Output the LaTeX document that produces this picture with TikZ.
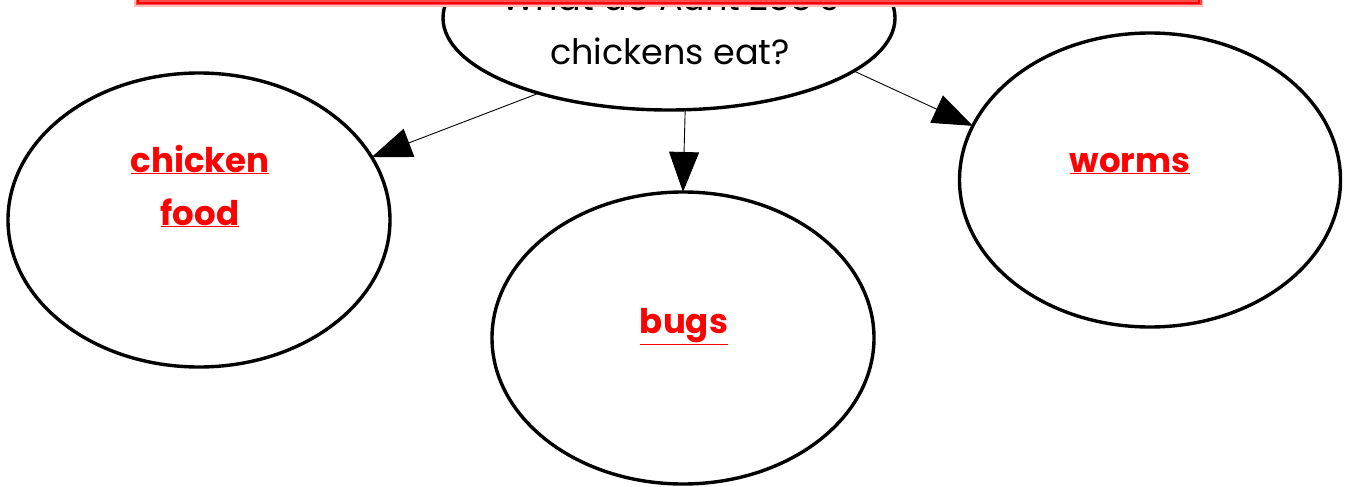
\documentclass[tikz,border=0pt]{standalone}
\usepackage{fontspec}
\setmainfont{Poppins}
\usetikzlibrary{shapes.geometric,arrows.meta}
\begin{document}
\begin{tikzpicture}[x=1pt,y=-1pt,
  bubble/.style={draw=black,line width=3.4pt,ellipse,fill=white,inner sep=0pt,outer sep=0pt},
  conn/.style={draw=black,line width=0.9pt,-{Triangle[length=40pt,width=30pt]}},
  lbl/.style={text=red,font=\fontsize{34}{53}\selectfont\bfseries,align=center,inner sep=0pt},
  qtxt/.style={font=\fontsize{35}{54}\selectfont,align=center,inner sep=0pt}]
\useasboundingbox (0,0) rectangle (1346,487);
\clip (0,0) rectangle (1346,487);
\node[bubble,minimum width=452pt,minimum height=184pt] (q) at (669,18) {};
\node[bubble,minimum width=382pt,minimum height=294pt] (food) at (199,220) {};
\node[bubble,minimum width=382pt,minimum height=292pt] (bugs) at (683,338) {};
\node[bubble,minimum width=381pt,minimum height=294pt] (worms) at (1150,180) {};
\node[qtxt,anchor=base] (qt) at (670,64) {What do Aunt Zoe's\\chickens eat?};
\node[lbl,anchor=base] (lfood) at (200,225) {\underline{chicken}\\\underline{food}};
\node[lbl,anchor=base] (lbugs) at (684,333) {\underline{bugs}};
\node[lbl,anchor=base] (lworms) at (1130,172) {\underline{worms}};
\draw[conn] (q.210.8) -- (food.20);
\draw[conn] (q.280) -- (bugs.90);
\draw[conn] (q.344.8) -- (worms.163.9);
\draw[red!25,line width=8pt] (138,-20) rectangle (1199,3);
\draw[red!70,line width=5pt] (138,-20) rectangle (1199,3);
\draw[red,line width=2.5pt] (138,-20) rectangle (1199,3);
\end{tikzpicture}
\end{document}
